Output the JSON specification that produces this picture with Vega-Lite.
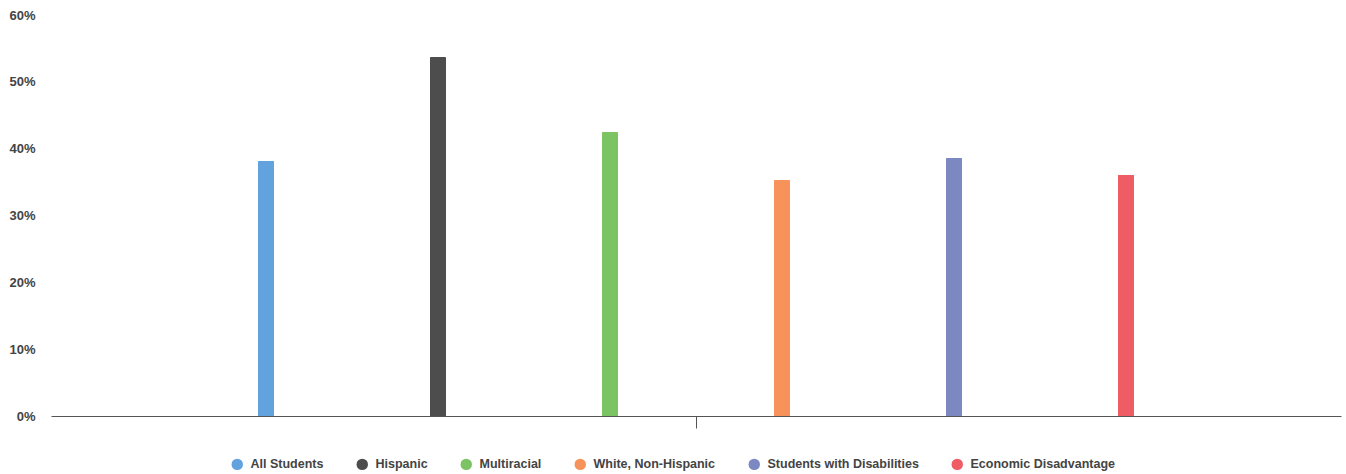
{
  "$schema": "https://vega.github.io/schema/vega-lite/v6.json",
  "autosize": {"type": "none"},
  "width": 1290,
  "height": 401,
  "padding": {"left": 51, "right": 5, "top": 15, "bottom": 58},
  "background": "white",
  "config": {
    "view": {"stroke": null},
    "font": "Liberation Sans"
  },
  "data": {
    "values": [
      {"group": "", "category": "All Students", "value": 0.382},
      {"group": "", "category": "Hispanic", "value": 0.537},
      {"group": "", "category": "Multiracial", "value": 0.425},
      {"group": "", "category": "White, Non-Hispanic", "value": 0.353},
      {"group": "", "category": "Students with Disabilities", "value": 0.386},
      {"group": "", "category": "Economic Disadvantage", "value": 0.361}
    ]
  },
  "mark": {"type": "bar", "cornerRadiusEnd": 1},
  "encoding": {
    "x": {
      "field": "group",
      "type": "nominal",
      "scale": {"paddingInner": 0, "paddingOuter": 0.125},
      "axis": {
        "title": null,
        "labels": false,
        "domainColor": "#555555",
        "domainWidth": 1,
        "tickColor": "#555555",
        "tickSize": 12,
        "tickBand": "center"
      }
    },
    "xOffset": {
      "field": "category",
      "type": "nominal",
      "sort": ["All Students", "Hispanic", "Multiracial", "White, Non-Hispanic", "Students with Disabilities", "Economic Disadvantage"],
      "scale": {"paddingInner": 0.907, "paddingOuter": 0.4535}
    },
    "y": {
      "field": "value",
      "type": "quantitative",
      "scale": {"domain": [0, 0.6], "nice": false},
      "axis": {
        "title": null,
        "format": ".0%",
        "values": [0, 0.1, 0.2, 0.3, 0.4, 0.5, 0.6],
        "grid": false,
        "domain": false,
        "ticks": false,
        "labelPadding": 16,
        "labelFontSize": 13,
        "labelFontWeight": "bold",
        "labelColor": "#444444"
      }
    },
    "color": {
      "field": "category",
      "type": "nominal",
      "sort": ["All Students", "Hispanic", "Multiracial", "White, Non-Hispanic", "Students with Disabilities", "Economic Disadvantage"],
      "scale": {
        "domain": ["All Students", "Hispanic", "Multiracial", "White, Non-Hispanic", "Students with Disabilities", "Economic Disadvantage"],
        "range": ["#62a3df", "#4d4d4d", "#7cc364", "#f7935a", "#7b88c2", "#ef5d64"]
      },
      "legend": {
        "title": null,
        "orient": "none",
        "legendX": 180,
        "legendY": 443,
        "direction": "horizontal",
        "symbolType": "circle",
        "symbolSize": 130,
        "symbolStrokeWidth": 0,
        "labelFontSize": 12.5,
        "labelFontWeight": "bold",
        "labelColor": "#444444",
        "labelOffset": 7,
        "columnPadding": 32
      }
    }
  }
}
